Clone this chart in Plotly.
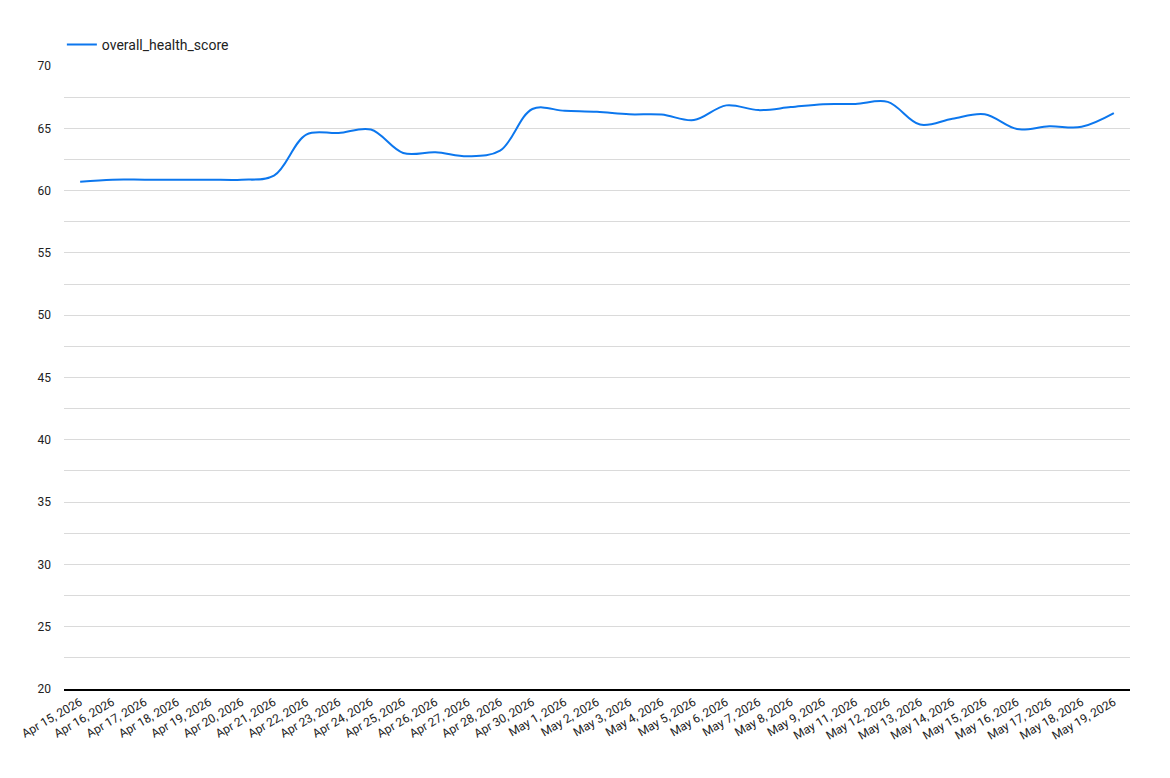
import plotly.graph_objects as go

dates = ["Apr 15, 2026", "Apr 16, 2026", "Apr 17, 2026", "Apr 18, 2026", "Apr 19, 2026",
         "Apr 20, 2026", "Apr 21, 2026", "Apr 22, 2026", "Apr 23, 2026", "Apr 24, 2026",
         "Apr 25, 2026", "Apr 26, 2026", "Apr 27, 2026", "Apr 28, 2026", "Apr 30, 2026",
         "May 1, 2026", "May 2, 2026", "May 3, 2026", "May 4, 2026", "May 5, 2026",
         "May 6, 2026", "May 7, 2026", "May 8, 2026", "May 9, 2026", "May 11, 2026",
         "May 12, 2026", "May 13, 2026", "May 14, 2026", "May 15, 2026", "May 16, 2026",
         "May 17, 2026", "May 18, 2026", "May 19, 2026"]

overall_health_score = [60.72, 60.88, 60.88, 60.88, 60.88,
                        60.87, 61.2, 64.5, 64.62, 64.9,
                        63.02, 63.08, 62.76, 63.2, 66.55,
                        66.4, 66.32, 66.12, 66.1, 65.66,
                        66.84, 66.46, 66.7, 66.94, 66.96,
                        67.12, 65.3, 65.77, 66.12, 64.94,
                        65.16, 65.12, 66.22]

y_ticks = [20, 25, 30, 35, 40, 45, 50, 55, 60, 65, 70]

fig = go.Figure()
fig.add_trace(go.Scatter(
    x=dates, y=overall_health_score, mode="lines",
    name="overall_health_score",
    line=dict(color="#0c77ee", width=2, shape="spline", smoothing=1.0),
))

fig.update_layout(
    width=1170, height=778,
    margin=dict(l=64, r=40, t=66, b=89),
    paper_bgcolor="white", plot_bgcolor="white",
    font=dict(family="Roboto, Arial, sans-serif", size=12, color="#222222"),
    showlegend=True,
    legend=dict(orientation="h", x=-0.002, y=1.008, xanchor="left", yanchor="bottom",
                font=dict(size=14, color="#222222"), itemwidth=30),
    xaxis=dict(type="category", tickangle=-30, showgrid=False,
               showline=True, linecolor="#000000", linewidth=1.5,
               ticks="", range=[-0.5, len(dates) - 0.5], fixedrange=True,
               tickfont=dict(size=12, color="#222222")),
    yaxis=dict(range=[20, 70], tickvals=y_ticks, showgrid=True,
               gridcolor="#dadada", gridwidth=1, zeroline=False,
               minor=dict(dtick=2.5, tick0=20, showgrid=True, gridcolor="#dadada", gridwidth=1),
               ticks="", ticklabelstandoff=12, tickfont=dict(size=12, color="#222222")),
)

fig.write_html("out.html")
